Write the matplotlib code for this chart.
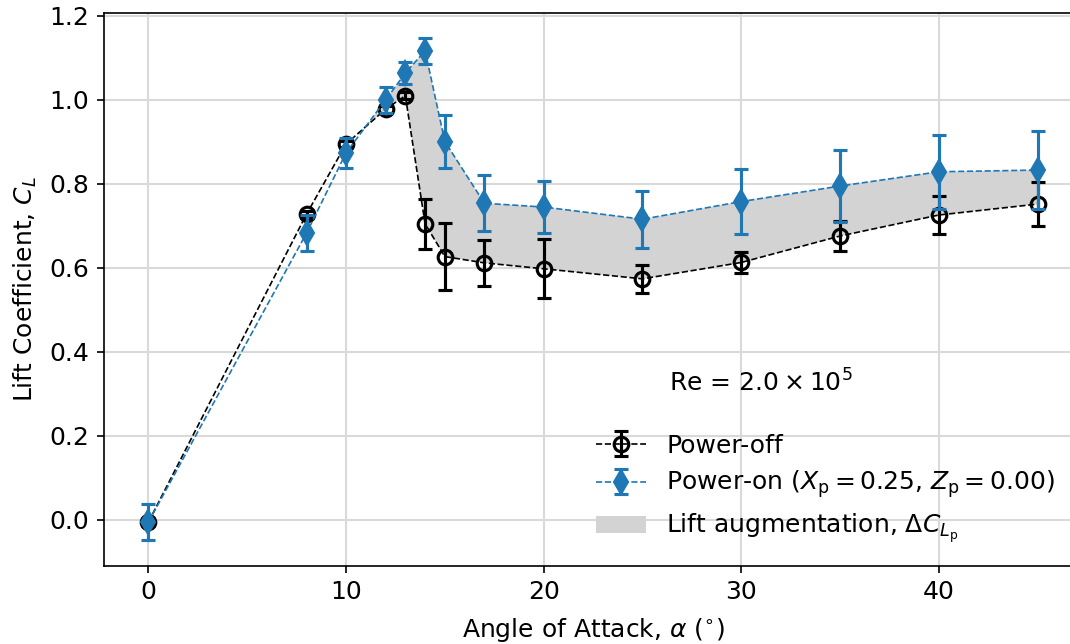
import numpy as np
import matplotlib
matplotlib.use("Agg")
import matplotlib.pyplot as plt

# ── Data ──────────────────────────────────────────────────────────────────────
alpha = [0, 8, 10, 12, 13, 14, 15, 17, 20, 25, 30, 35, 40, 45]

cl_off = [-0.005, 0.728, 0.895, 0.978, 1.010, 0.705, 0.627, 0.612, 0.598,
          0.574, 0.613, 0.676, 0.726, 0.752]
err_off = [0.008, 0.008, 0.008, 0.008, 0.008, 0.060, 0.080, 0.055, 0.070,
           0.033, 0.026, 0.035, 0.045, 0.053]

cl_on = [-0.005, 0.683, 0.874, 1.000, 1.064, 1.117, 0.901, 0.754, 0.745,
         0.716, 0.758, 0.795, 0.829, 0.833]
err_on = [0.044, 0.042, 0.035, 0.030, 0.027, 0.031, 0.062, 0.067, 0.063,
          0.068, 0.078, 0.085, 0.088, 0.092]

a = np.array(alpha)
off = np.array(cl_off)
on = np.array(cl_on)

# ── Figure ────────────────────────────────────────────────────────────────────
DPI = 150
fig = plt.figure(figsize=(1070 / DPI, 644 / DPI), dpi=DPI)
ax = fig.add_axes([0.0972, 0.1216, 1.0113 - 0.0972, 0.9798 - 0.1216])

ax.fill_between(a, off, on, where=on >= off, interpolate=True,
                color='lightgray', lw=0, zorder=1,
                label=r'Lift augmentation, $\Delta C_{L_{\mathrm{p}}}$')

ax.errorbar(a, off, yerr=err_off, fmt='o', ls='--', color='black', lw=0.8,
            mfc='none', mec='black', mew=1.5, ms=7,
            ecolor='black', elinewidth=1.5, capsize=3.5, capthick=1.5,
            zorder=3, label='Power-off')
ax.errorbar(a, on, yerr=err_on, fmt='d', ls='--', color='#1f77b4', lw=0.8,
            ms=8, ecolor='#1f77b4', elinewidth=1.5, capsize=3.5, capthick=1.5,
            zorder=4,
            label=r'Power-on ($X_{\mathrm{p}} = 0.25$, $Z_{\mathrm{p}} = 0.00$)')

ax.set_xlim(-2.25, 47.25)
ax.set_ylim(-0.109, 1.207)
ax.set_xticks([0, 10, 20, 30, 40])
ax.set_yticks(np.arange(0, 1.21, 0.2))
ax.tick_params(labelsize=12)
ax.grid(True, color='0.85', lw=1.0)
ax.set_axisbelow(True)

ax.set_xlabel(r'Angle of Attack, $\alpha$ ($^{\circ}$)', fontsize=12, labelpad=5.5)
ax.set_ylabel(r'Lift Coefficient, $C_L$', fontsize=12, labelpad=5)

ax.text(0.578, 0.33, r'Re = $2.0 \times 10^{5}$', transform=ax.transAxes,
        fontsize=12, ha='left', va='center')

handles, labels = ax.get_legend_handles_labels()
order = [1, 2, 0]
ax.legend([handles[i] for i in order], [labels[i] for i in order],
          loc='lower left', bbox_to_anchor=(0.4805, -0.004), frameon=False,
          fontsize=12, labelspacing=0.45)

fig.savefig('out.png', dpi=DPI)
